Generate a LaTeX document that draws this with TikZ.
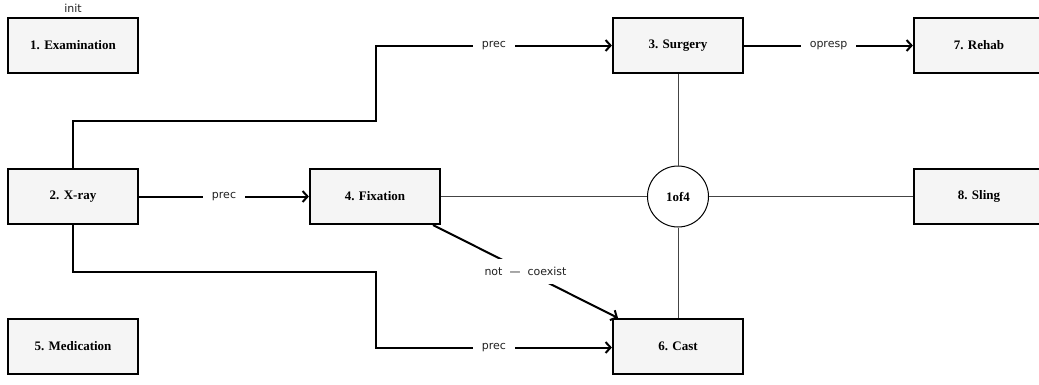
\documentclass[tikz,border=0pt]{standalone}
\usepackage{fontspec}
\newfontfamily\boxfont{Liberation Serif}
\newfontfamily\lblfont{DejaVu Sans}
\usetikzlibrary{arrows.meta,calc}
\definecolor{boxfill}{HTML}{F5F5F5}
\definecolor{lblcol}{HTML}{222222}
\definecolor{thincol}{HTML}{444444}
\tikzset{
  task/.style={draw=black, line width=2.2pt, fill=boxfill, minimum width=130pt, minimum height=55pt, inner sep=0pt, font=\boxfont\bfseries\fontsize{13}{15}\selectfont},
  junction/.style={draw=black, line width=1pt, fill=white, circle, minimum size=61pt, inner sep=0pt, font=\boxfont\bfseries\fontsize{13}{15}\selectfont},
  edge/.style={draw=black, line width=2pt, -{Straight Barb[length=5pt,width=11pt,line width=2pt]}},
  thinline/.style={draw=thincol, line width=1pt},
  lbl/.style={fill=white, text=lblcol, inner xsep=9pt, inner ysep=8pt, font=\lblfont\fontsize{11}{13}\selectfont},
  toplbl/.style={text=lblcol, inner sep=0pt, font=\lblfont\fontsize{11}{13}\selectfont}
}
\begin{document}
\begin{tikzpicture}[x=1pt,y=-1pt]
\path[use as bounding box, clip] (0,0) rectangle (1039,384);
\fill[white] (0,0) rectangle (1039,384);
% nodes
\node[task] (exam) at (73,45.5) {1. Examination};
\node[toplbl, anchor=base] (init) at (73,12) {init};
\node[task] (xray) at (73,196.5) {2. X-ray};
\node[task] (fix) at (375,196.5) {4. Fixation};
\node[task] (surg) at (678,45.5) {3. Surgery};
\node[task] (rehab) at (979,45.5) {7. Rehab};
\node[task] (sling) at (979,196.5) {8. Sling};
\node[task] (med) at (73,346.5) {5. Medication};
\node[task] (cast) at (678,346.5) {6. Cast};
\node[junction] (one) at (678,196.5) {1of4};
% thin connectors to junction
\draw[thinline] (surg.south) -- (one.north);
\draw[thinline] (one.south) -- (cast.north);
\draw[thinline] (fix.east) -- (one.west);
\draw[thinline] (one.east) -- (sling.west);
% coordinates for orthogonal routes
\coordinate (u1) at (376,121);
\coordinate (u2) at (376,45.5);
\coordinate (d1) at (376,272);
\coordinate (d2) at (376,347.5);
\coordinate (fs) at (433,225);
\coordinate (ct) at (618,318);
% thick connectors
\draw[edge] (xray.north) |- (u1) -- (u2) -- node[lbl]{prec} (surg.west);
\draw[edge] (xray.east) -- node[lbl]{prec} (fix.west);
\draw[edge] (xray.south) |- (d1) -- (d2) -- node[lbl]{prec} (cast.west |- d2);
\draw[edge] (surg.east) -- node[lbl]{opresp} (rehab.west);
\draw[edge] (fs) -- node[lbl]{not\hspace{7pt}—\hspace{7pt}coexist} (ct);
\end{tikzpicture}
\end{document}
